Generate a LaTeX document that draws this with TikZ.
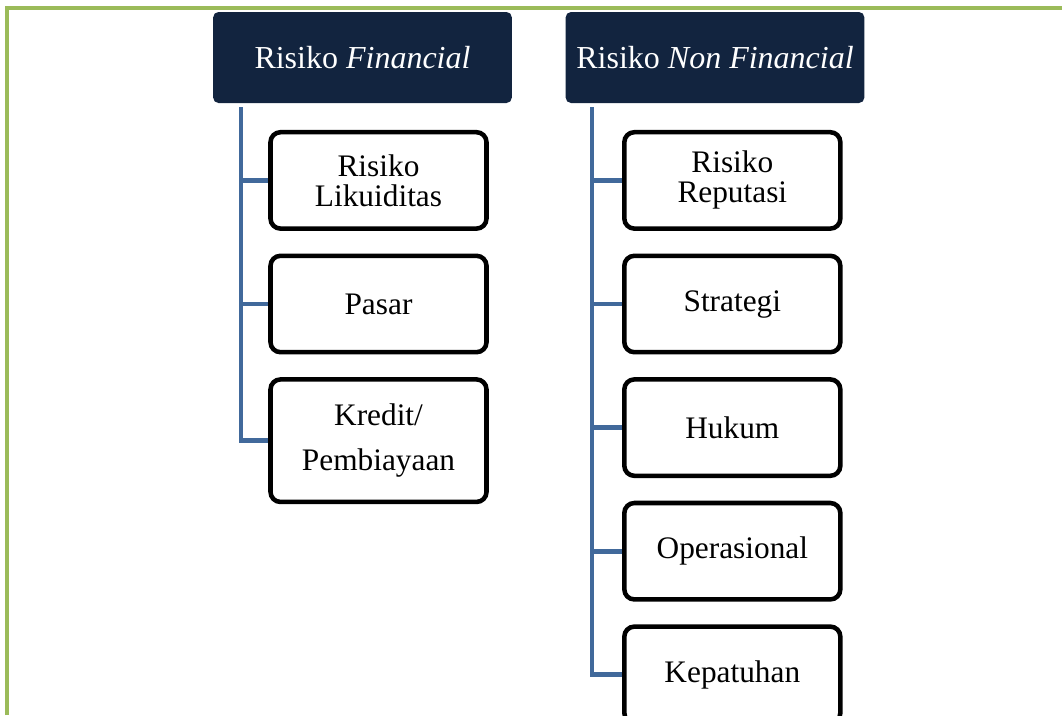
\documentclass[tikz,border=0pt]{standalone}
\usepackage{fontspec}
\setmainfont{Liberation Serif}
\usetikzlibrary{positioning}
\definecolor{frame-green}{HTML}{9BBB59}
\definecolor{head-navy}{HTML}{12243F}
\definecolor{link-blue}{HTML}{41699B}

\tikzset{
  head/.style={fill=head-navy, text=white, rounded corners=4pt, minimum width=224pt, minimum height=68.25pt, inner sep=2pt, font=\fontsize{24}{27}\selectfont},
  risk/.style={draw, line width=3.4pt, rounded corners=7.5pt, fill=white, minimum width=162pt, minimum height=72.3pt, align=center, font=\fontsize{23.5}{22.5}\selectfont},
  link/.style={link-blue, line width=3.6pt},
}

\begin{document}
\begin{tikzpicture}[x=0.75pt, y=-0.75pt, node distance=17pt]
\useasboundingbox (0,0) rectangle (1062,715);
\clip (0,0) rectangle (1062,715);
\draw[frame-green, line width=2.4pt] (7,715) -- (7,8) -- (1062,8);

% kelompok risiko
\node[head] (fin) at (362.5,57.5) {Risiko \textit{Financial}};
\node[head] (nonfin) at (715,57.5) {Risiko \textit{Non Financial}};

\node[risk, below=20pt of fin, xshift=12pt] (likuid) {Risiko\\Likuiditas};
\node[risk, below=of likuid] (pasar) {Pasar};
\node[risk, below=of pasar, minimum height=91.9pt] (kredit) {Kredit/\\[11pt]Pembiayaan};

\node[risk, below=20pt of nonfin, xshift=13pt] (reputasi) {Risiko\\Reputasi};
\node[risk, below=of reputasi] (strategi) {Strategi};
\node[risk, below=of strategi] (hukum) {Hukum};
\node[risk, below=of hukum] (operasional) {Operasional};
\node[risk, below=of operasional] (kepatuhan) {Kepatuhan};

\coordinate[below right=3pt and 21pt of fin.south west] (fin-spine);
\coordinate[below right=3pt and 20pt of nonfin.south west] (nonfin-spine);

\foreach \c in {likuid,pasar,kredit}
  \draw[link] (fin-spine) |- (\c.west);
\foreach \c in {reputasi,strategi,hukum,operasional,kepatuhan}
  \draw[link] (nonfin-spine) |- (\c.west);
\end{tikzpicture}
\end{document}
